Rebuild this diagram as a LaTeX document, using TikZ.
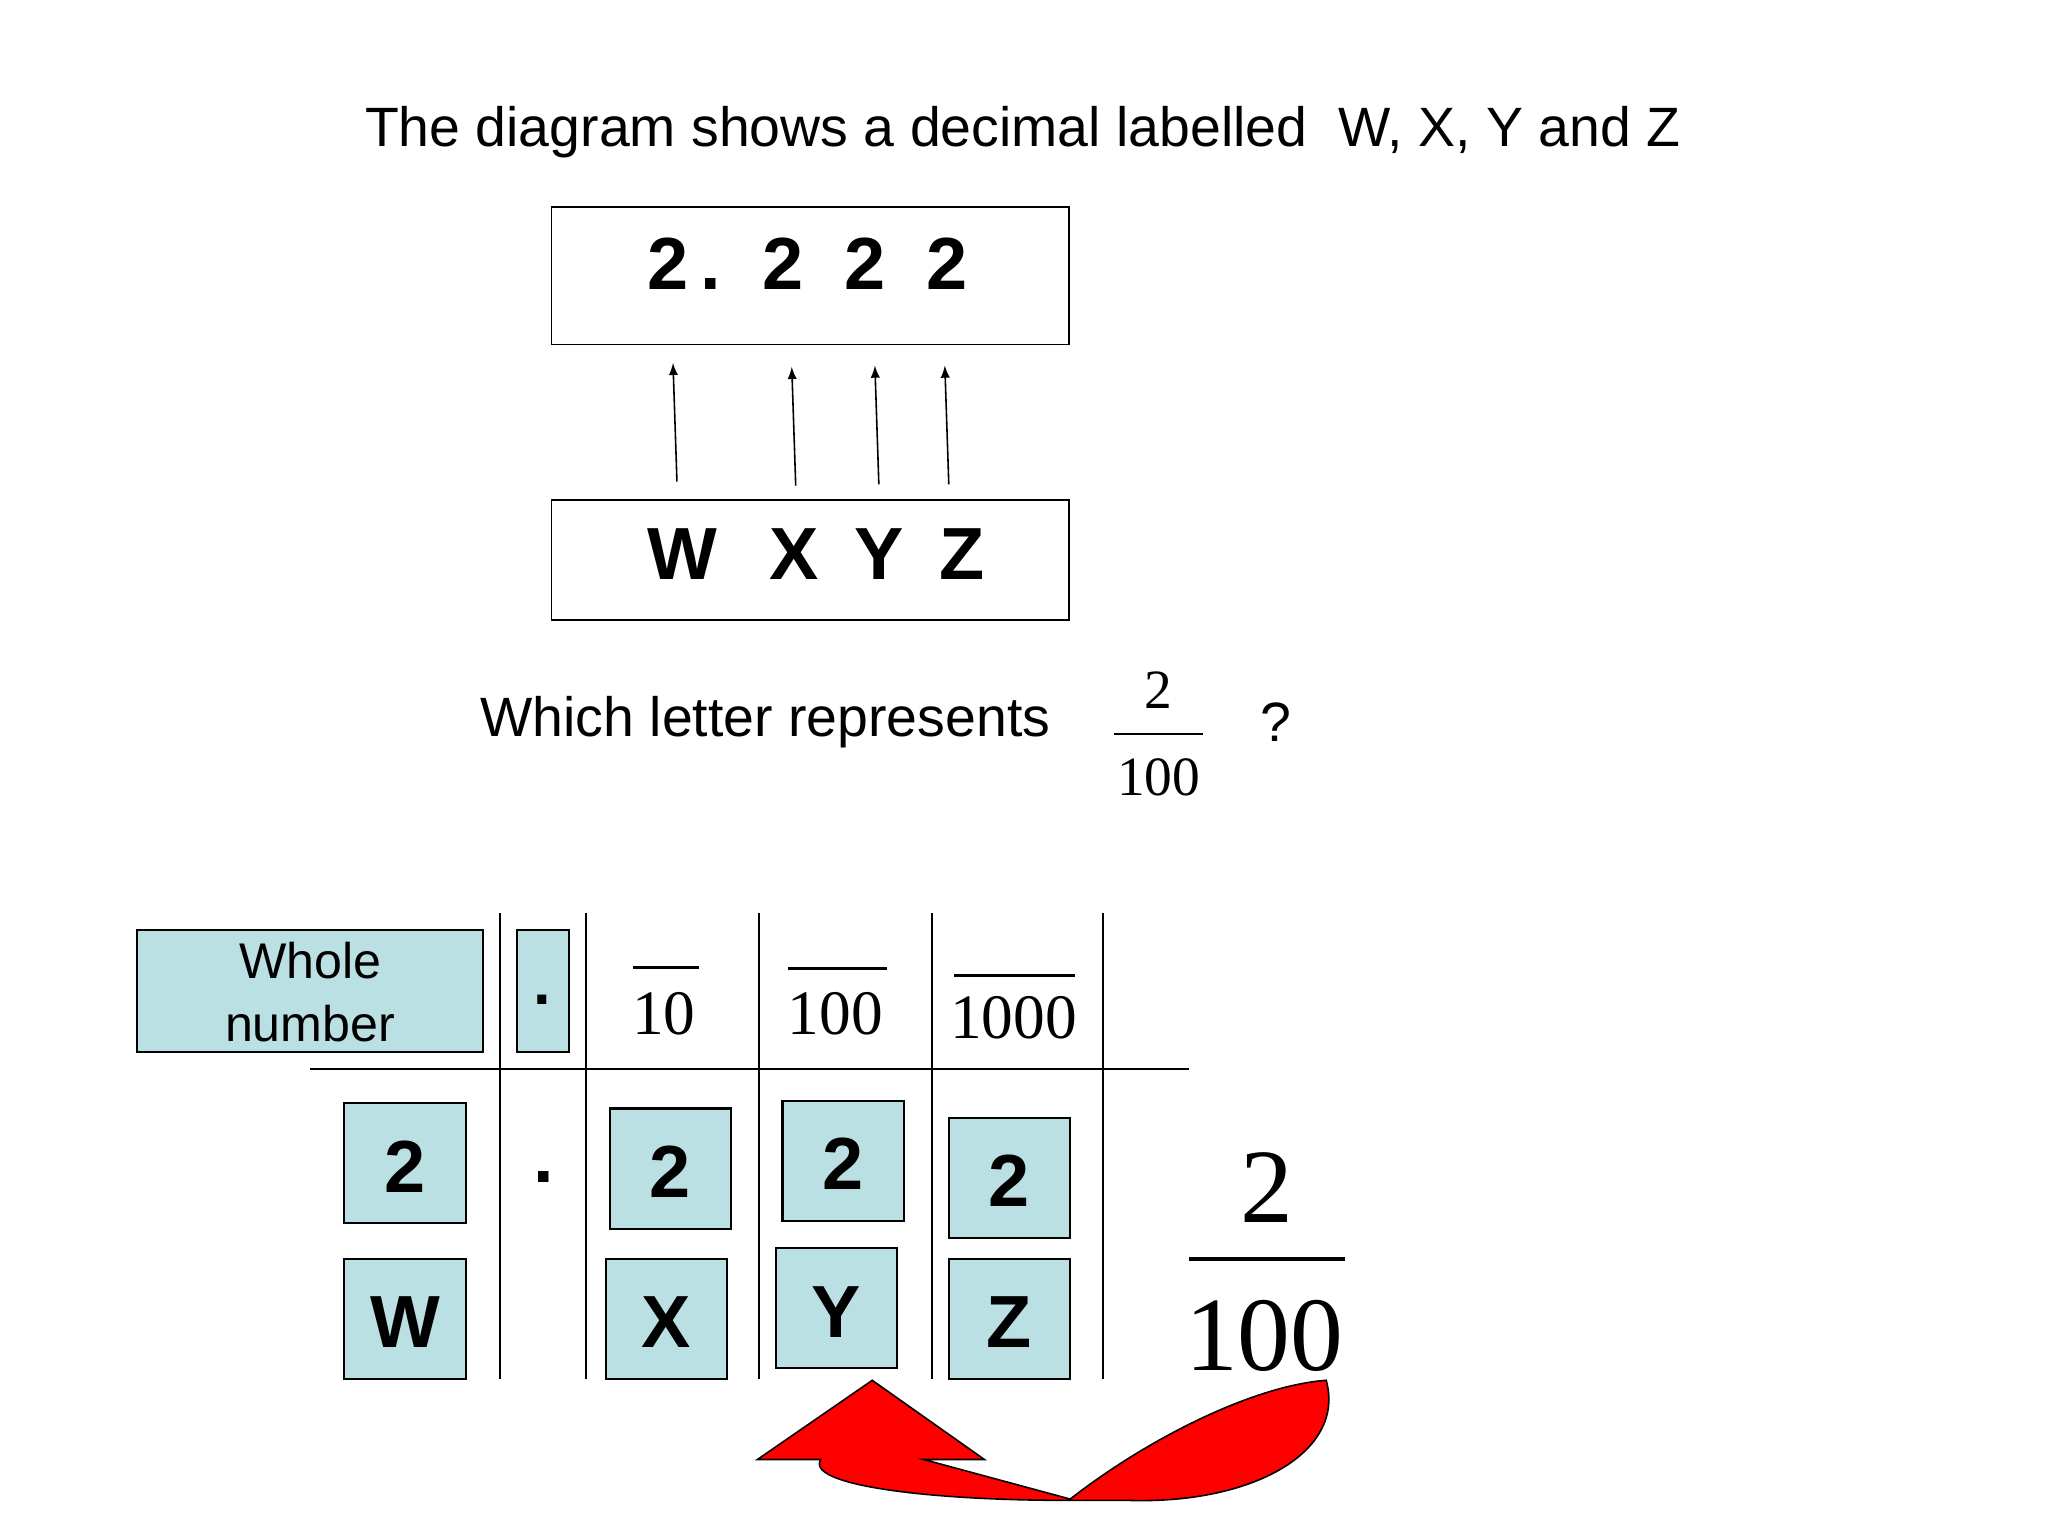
\documentclass[tikz,border=0pt]{standalone}
\usepackage{fontspec}
\setmainfont{Liberation Sans}
\newfontfamily\tms{Liberation Serif}
\begin{document}
\begin{tikzpicture}[x=0.5pt,y=-0.5pt,
  cell/.style={draw=black,fill=cellblue,line width=0.8pt},
  big/.style={font=\fontsize{28}{30}\selectfont\bfseries},
  arr/.style={-latex,line width=0.6pt}]
\definecolor{cellblue}{HTML}{BBE0E3}
\useasboundingbox (0,0) rectangle (1552,1164);
\node (title) at (775,100) {\fontsize{21}{24}\selectfont The diagram shows a decimal labelled\ \ W, X, Y and Z};
\node[draw,minimum width=196pt,minimum height=52pt,line width=0.6pt] (top) at (614,209) {};
\node[big] (dig) at (612,200) {2\,.\ \ 2\ \ 2\ \ 2};
\node[draw,minimum width=196pt,minimum height=45.5pt,line width=0.6pt] (bot) at (614,424.5) {};
\node[big] (lw) at (517,420) {W};
\node[big] (lx) at (602,420) {X};
\node[big] (ly) at (666,420) {Y};
\node[big] (lz) at (729,420) {Z};
\coordinate (a1) at (513,365); \coordinate (b1) at (510,275);
\coordinate (a2) at (603,368); \coordinate (b2) at (600,278);
\coordinate (a3) at (666,367); \coordinate (b3) at (663,277);
\coordinate (a4) at (719,367); \coordinate (b4) at (716,277);
\foreach \i in {1,2,3,4} \draw[arr] (a\i) -- (b\i);
\node (q) at (580,547) {\fontsize{21}{24}\selectfont Which letter represents};
\node (fn) at (878,523) {\tms\fontsize{21}{24}\selectfont 2};
\node (fd) at (878,589) {\tms\fontsize{21}{24}\selectfont 100};
\draw[line width=0.8pt] (844,556) -- (912,556);
\node (qm) at (967,547) {\fontsize{21}{24}\selectfont ?};
% table
\foreach \x in {379,444,575,706,836} \draw[line width=0.8pt] (\x,692) -- (\x,1045);
\draw[line width=0.8pt] (235,810) -- (901,810);
\draw[cell] (104,705) rectangle (366,797);
\node[align=center,font=\fontsize{19}{24}\selectfont] (wn) at (235,752) {Whole\\number};
\draw[cell] (392,705) rectangle (431,797);
\node[font=\fontsize{24}{24}\selectfont\bfseries] (dt) at (411,758) {.};
\draw[line width=1.2pt] (480,733) -- (530,733);
\draw[line width=1.2pt] (597,734) -- (672,734);
\draw[line width=1.2pt] (723,739) -- (815,739);
\node[font=\tms\fontsize{24}{24}\selectfont] (h1) at (503,768) {10};
\node[font=\tms\fontsize{24}{24}\selectfont] (h2) at (633,768) {100};
\node[font=\tms\fontsize{24}{24}\selectfont] (h3) at (768,771) {1000};
% cells
\foreach \x/\y/\t/\n in {261/836/2/c1,462/840/2/c2,593/834/2/c3,719/847/2/c4,261/954/W/d1,459/954/X/d2,588/946/Y/d3,719/954/Z/d4}{
  \draw[cell] (\x,\y) rectangle ++(92,91);
  \node[big] (\n) at (\x+46,\y+48) {\t};
}
\node[big] (dd) at (412,892) {.};
\node (bn) at (960,900) {\tms\fontsize{40}{40}\selectfont 2};
\node (bd) at (958,1012) {\tms\fontsize{40}{40}\selectfont 100};
\draw[line width=1.8pt] (901,954) -- (1019,954);
% red arrow
\draw[fill=red,line width=0.6pt] (574,1106) -- (661,1046) -- (746,1106) -- (700,1106) -- (811,1136)
  .. controls (870,1090) and (950,1050) .. (1005,1046)
  .. controls (1020,1100) and (950,1140) .. (855,1137)
  -- (811,1137) .. controls (700,1137) and (610,1125) .. (622,1106) -- cycle;
\end{tikzpicture}
\end{document}
